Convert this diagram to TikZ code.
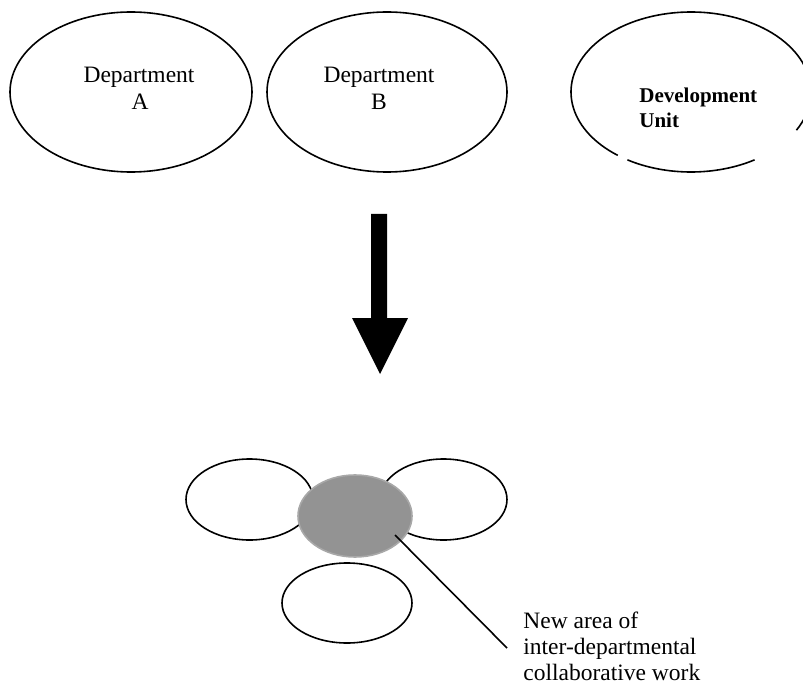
\documentclass[tikz,border=0pt]{standalone}
\usepackage{fontspec}
\setmainfont{Liberation Serif}
\usetikzlibrary{shapes.geometric,calc}
\definecolor{greyfill}{HTML}{939393}
\definecolor{greyedge}{HTML}{A8A8A8}
\begin{document}
\begin{tikzpicture}[x=0.5pt,y=-0.5pt,
  oval/.style={draw=black,line width=0.8pt,ellipse,inner sep=0pt},
  lbl/.style={inner sep=0pt,font=\fontsize{11.75}{13.5}\selectfont},
  blbl/.style={inner sep=0pt,font=\fontsize{10.5}{12.5}\selectfont\bfseries},
  leader/.style={draw=black,line width=0.8pt}]
\useasboundingbox (0,0) rectangle (803,684);
\clip (0,0) rectangle (803,684);
% top ellipses
\node[oval,minimum width=121pt,minimum height=80pt] (depA) at (131,92) {};
\node[oval,minimum width=120pt,minimum height=80pt] (depB) at (387,92) {};
\coordinate (devU) at (691,92);
\draw[line width=0.8pt] ($(devU)+(238:60pt and 40pt)$) arc[start angle=238,end angle=302,x radius=60pt,y radius=40pt];
\draw[line width=0.8pt] ($(devU)+(331.5:60pt and 40pt)$) arc[start angle=331.5,end angle=592.4,x radius=60pt,y radius=40pt];
% labels
\node[lbl,anchor=base] (tA1) at (139,83) {Department};
\node[lbl,anchor=base] (tA2) at (140,110) {A};
\node[lbl,anchor=base] (tB1) at (379,83) {Department};
\node[lbl,anchor=base] (tB2) at (379,110) {B};
\node[blbl,anchor=base west] (tD1) at (639,103) {Development};
\node[blbl,anchor=base west] (tD2) at (639,128) {Unit};
% big arrow
\fill[black] (371,214) -- (387,214) -- (387,318) -- (408,318) -- (380,374) -- (352,318) -- (371,318) -- cycle;
% bottom cluster
\node[oval,minimum width=63.5pt,minimum height=40.5pt] (left) at (249.5,499.5) {};
\node[oval,minimum width=63.5pt,minimum height=40.5pt] (right) at (443.5,499.5) {};
\node[oval,minimum width=65pt,minimum height=40pt] (bottom) at (347,603) {};
\node[ellipse,fill=greyfill,draw=greyedge,line width=0.8pt,inner sep=0pt,minimum width=57pt,minimum height=41pt] (shared) at (355,516) {};
\coordinate (lstart) at (395,535);
\coordinate (lend) at (507,648);
\draw[leader] (lstart) -- (lend);
\node[lbl,anchor=base west] (n1) at (523,628) {New area of};
\node[lbl,anchor=base west] (n2) at (523,654) {inter-departmental};
\node[lbl,anchor=base west] (n3) at (523,680) {collaborative work};
\end{tikzpicture}
\end{document}
